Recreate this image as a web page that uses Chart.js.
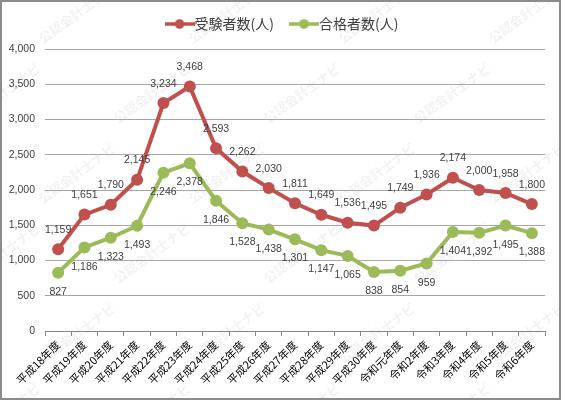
<!DOCTYPE html>
<html><head><meta charset="utf-8">
<script src="https://cdn.jsdelivr.net/npm/chart.js@4.4.0/dist/chart.umd.min.js"></script>
<style>html,body{margin:0;padding:0;background:#fff}#wrap{width:561px;height:400px;position:relative}</style>
</head><body><div id="wrap"><canvas id="c" width="561" height="400"></canvas></div>
<script>
const categories = ['平成18年度','平成19年度','平成20年度','平成21年度','平成22年度','平成23年度','平成24年度','平成25年度','平成26年度','平成27年度','平成28年度','平成29年度','平成30年度','令和元年度','令和2年度','令和3年度','令和4年度','令和5年度','令和6年度'];
const examinees = [1159,1651,1790,2145,3234,3468,2593,2262,2030,1811,1649,1536,1495,1749,1936,2174,2000,1958,1800];
const passers = [827,1186,1323,1493,2246,2378,1846,1528,1438,1301,1147,1065,838,854,959,1404,1392,1495,1388];
const seriesNames = ['受験者数(人)','合格者数(人)'];
const yMin = 0, yMax = 4000, yStep = 500;
const watermarkText = '公認会計士ナビ';

const RED = '#C0504D', GREEN = '#9BBB59';
const fmt = v => v.toLocaleString('en-US');

function marker(color){
  const c = document.createElement('canvas');
  c.width = 30; c.height = 12;
  const x = c.getContext('2d');
  x.strokeStyle = color; x.lineWidth = 3.5;
  x.beginPath(); x.moveTo(0,6); x.lineTo(30,6); x.stroke();
  x.fillStyle = color; x.beginPath(); x.arc(15,6,4.8,0,Math.PI*2); x.fill();
  return c;
}
const markers = [marker(RED), marker(GREEN)];

const bgPlugin = {
  id:'bg',
  beforeLayout(chart){
    const lg = chart.legend;
    if (lg && !lg._wrapped){
      const orig = lg.fit;
      lg.fit = function(){ orig.call(this); this.height += 8 - 10; };
      lg._wrapped = true;
    }
  },
  afterLayout(chart){
    const lg = chart.legend;
    if (lg){ lg.left += 12.5; lg.right += 12.5; lg.top -= 10; lg.bottom -= 10; }
  },
  beforeDraw(chart){
    const ctx = chart.ctx;
    ctx.save();
    ctx.fillStyle = '#fff';
    ctx.fillRect(0,0,chart.width,chart.height);
    ctx.font = 'bold 13px "Noto Sans CJK JP"';
    ctx.fillStyle = 'rgba(0,0,0,0.055)';
    for (let row = -1; row < 6; row++){
      for (let col = -1; col < 5; col++){
        const x = col*150 + (row%2 ? 75 : 0) + 40;
        const y = row*80 + 40;
        ctx.save(); ctx.translate(x,y); ctx.rotate(-Math.PI/5);
        ctx.fillText(watermarkText,0,0);
        ctx.restore();
      }
    }
    ctx.restore();
  },
  afterDraw(chart){
    const ctx = chart.ctx;
    ctx.save();
    ctx.strokeStyle = '#8c8c8c'; ctx.lineWidth = 2;
    ctx.strokeRect(1,1,chart.width-2,chart.height-2);
    ctx.restore();
  }
};

const labelPlugin = {
  id:'dlabels',
  afterDatasetsDraw(chart){
    const ctx = chart.ctx;
    ctx.save();
    ctx.font = '10.5px "Liberation Sans"';
    ctx.fillStyle = '#404040';
    ctx.textAlign = 'center';
    chart.data.datasets.forEach((ds,i)=>{
      const meta = chart.getDatasetMeta(i);
      meta.data.forEach((p,j)=>{
        const txt = fmt(ds.data[j]);
        if (i === 0){ ctx.textBaseline = 'bottom'; ctx.fillText(txt,p.x,p.y-14); }
        else { ctx.textBaseline = 'top'; ctx.fillText(txt,p.x,p.y+14); }
      });
    });
    ctx.restore();
  }
};

new Chart(document.getElementById('c'),{
  type:'line',
  data:{
    labels:categories,
    datasets:[
      {label:seriesNames[0],data:examinees,borderColor:RED,backgroundColor:RED,borderWidth:4,pointRadius:6,pointBackgroundColor:RED,pointBorderWidth:0,tension:0},
      {label:seriesNames[1],data:passers,borderColor:GREEN,backgroundColor:GREEN,borderWidth:4,pointRadius:6,pointBackgroundColor:GREEN,pointBorderWidth:0,tension:0}
    ]
  },
  options:{
    responsive:false,
    animation:false,
    layout:{padding:{top:5,right:16,left:0,bottom:0}},
    plugins:{
      tooltip:{enabled:false},
      legend:{
        position:'top',
        labels:{
          usePointStyle:true,
          pointStyleWidth:16,
          boxHeight:12,
          padding:22,
          color:'#404040',
          font:{size:14,family:'"Noto Sans CJK JP"'},
          generateLabels(chart){
            return chart.data.datasets.map((d,i)=>({text:d.label,pointStyle:markers[i],fillStyle:d.borderColor,strokeStyle:d.borderColor,lineWidth:0,datasetIndex:i,fontColor:'#404040'}));
          }
        }
      }
    },
    scales:{
      x:{
        offset:true,
        grid:{offset:true,drawOnChartArea:false,drawTicks:true,tickLength:5,color:'#868686'},
        border:{color:'#868686',width:1},
        ticks:{minRotation:45,maxRotation:45,autoSkip:false,color:'#000',font:{size:11,family:'"Noto Sans CJK JP"'},padding:2},
        afterFit(s){ s.height = 69; }
      },
      y:{
        min:yMin,max:yMax,
        grid:{color:'#a6a6a6',drawTicks:false,lineWidth:1},
        border:{display:false},
        ticks:{stepSize:yStep,color:'#404040',font:{size:10.5,family:'"Liberation Sans"'},padding:10,callback:v=>fmt(v)},
        afterFit(s){ s.width = 45; }
      }
    }
  },
  plugins:[bgPlugin,labelPlugin]
});
</script></body></html>
